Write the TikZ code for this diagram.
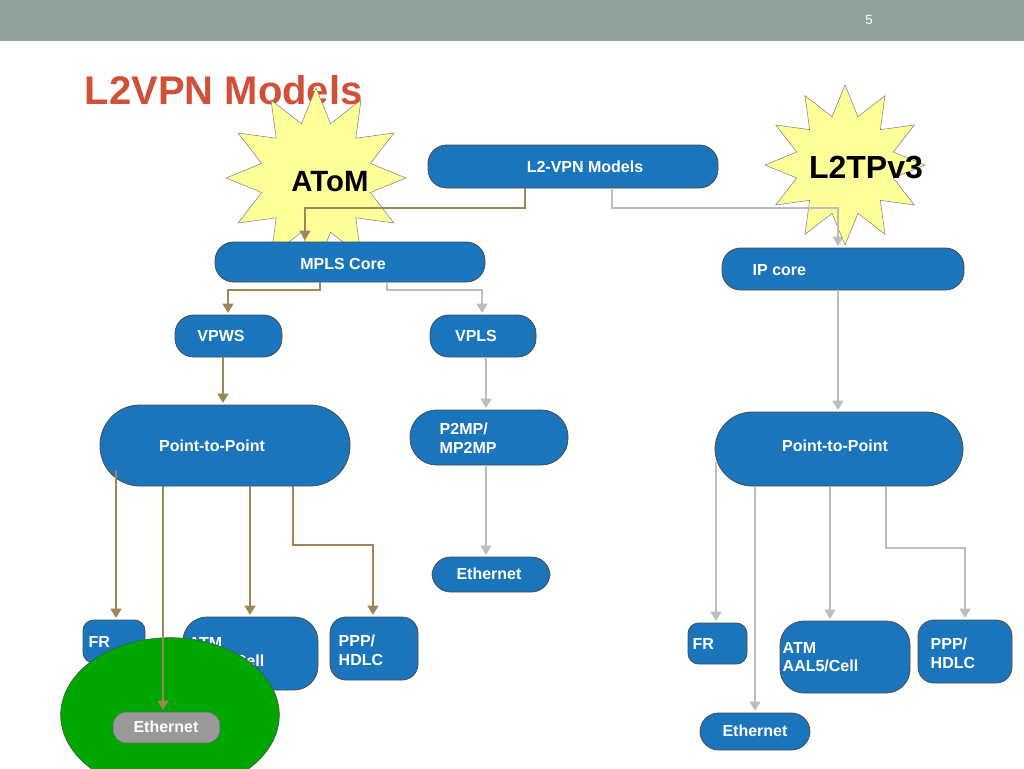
\documentclass[tikz,border=0pt]{standalone}
\usepackage{fontspec}
\setmainfont{Liberation Sans}
\usetikzlibrary{shapes.geometric,arrows.meta,shadows}
\definecolor{bar}{HTML}{8FA39A}
\definecolor{ttl}{HTML}{D0503A}
\definecolor{bx}{HTML}{1A75BC}
\definecolor{brn}{HTML}{A08558}
\definecolor{gry}{HTML}{BDBDBD}
\definecolor{st}{HTML}{FFFF99}
\begin{document}
\begin{tikzpicture}[x=0.75pt,y=-0.75pt,
 b/.style={draw=black!70,fill=bx,rounded corners=14pt,line width=0.6pt,text=white,font=\bfseries\large},
 cb/.style={line width=2.2pt,brn,-{Triangle[length=7pt,width=8pt]}},
 cg/.style={line width=2.2pt,gry,-{Triangle[length=7pt,width=8pt]}},
 star1/.style={star,star points=12,star point ratio=1.6,draw=gray,fill=st,minimum size=135pt}]
\useasboundingbox (0,0) rectangle (1024,768);
\fill[bar] (0,0) rectangle (1024,41);
\node[text=white] (pg) at (869,20) {5};
\node[anchor=west,text=ttl,font=\bfseries\fontsize{30}{32}\selectfont] (t) at (80,90) {L2VPN Models};
\node[star1] (s1) at (316,178) {};
\node[font=\bfseries\fontsize{22}{24}\selectfont] (s1t) at (330,182) {AToM};
\node[star1,minimum size=120pt] (s2) at (845,165) {};
\node[font=\bfseries\fontsize{24}{26}\selectfont] (s2t) at (866,168) {L2TPv3};
\newcommand{\bx}[4]{\path[b] (#1) rectangle (#2);}
\path[b] (428,145) rectangle (718,188); \node[text=white,font=\bfseries\large] (lvm) at (585,167) {L2-VPN Models};
\path[b] (215,242) rectangle (485,282); \node[text=white,font=\bfseries\large] (mc) at (343,264) {MPLS Core};
\path[b] (722,248) rectangle (964,290); \node[text=white,font=\bfseries\large,anchor=west] (ipc) at (748,270) {IP core};
\path[b] (175,315) rectangle (282,357); \node[text=white,font=\bfseries\large] (vpws) at (221,336) {VPWS};
\path[b] (430,315) rectangle (536,357); \node[text=white,font=\bfseries\large] (vpls) at (476,336) {VPLS};
\path[b,rounded corners=30pt] (100,405) rectangle (350,486); \node[text=white,font=\bfseries\large] (p1) at (212,446) {Point-to-Point};
\path[b,rounded corners=20pt] (410,410) rectangle (568,465); \node[text=white,font=\bfseries\large,align=left,anchor=west] (p2) at (435,438) {P2MP/\\MP2MP};
\path[b] (432,557) rectangle (550,592); \node[text=white,font=\bfseries\large] (e1) at (489,574) {Ethernet};
\path[b,rounded corners=28pt] (715,412) rectangle (963,486); \node[text=white,font=\bfseries\large] (p3) at (835,446) {Point-to-Point};
\path[b,rounded corners=8pt] (83,620) rectangle (145,663); \node[text=white,font=\bfseries\large,anchor=west] (fr1) at (84,642) {FR};
\path[b,rounded corners=18pt] (183,617) rectangle (318,690); \node[text=white,font=\bfseries\large,align=left,anchor=west] (atm1) at (184,652) {ATM\\AAL5/Cell};
\path[b,rounded corners=12pt] (330,617) rectangle (418,680); \node[text=white,font=\bfseries\large,align=left,anchor=west] (ppp1) at (334,650) {PPP/\\HDLC};
\path[draw=black!70,fill=green!65!black] (170,715) ellipse (82pt and 58pt);
\path[draw=black!60,fill=gray!80,rounded corners=10pt] (113,712) rectangle (220,743); \node[text=white,font=\bfseries\large] (e2) at (166,727) {Ethernet};
\path[b,rounded corners=8pt] (688,623) rectangle (747,664); \node[text=white,font=\bfseries\large,anchor=west] (fr2) at (688,644) {FR};
\path[b,rounded corners=18pt] (780,621) rectangle (910,693); \node[text=white,font=\bfseries\large,align=left,anchor=west] (atm2) at (778,657) {ATM\\AAL5/Cell};
\path[b,rounded corners=12pt] (918,620) rectangle (1012,683); \node[text=white,font=\bfseries\large,align=left,anchor=west] (ppp2) at (926,653) {PPP/\\HDLC};
\path[b] (700,713) rectangle (810,750); \node[text=white,font=\bfseries\large] (e3) at (755,731) {Ethernet};
% connectors
\draw[cb] (525,188) -- (525,208) -- (305,208) -- (305,240);
\draw[cg] (612,188) -- (612,208) -- (838,208) -- (838,246);
\draw[cb] (320,282) -- (320,290) -- (228,290) -- (228,313);
\draw[cg] (387,282) -- (387,290) -- (482,290) -- (482,313);
\draw[cb] (223,357) -- (223,403);
\draw[cg] (486,357) -- (486,408);
\draw[cg] (486,465) -- (486,555);
\draw[cg] (838,290) -- (838,410);
\draw[cb] (116,470) -- (116,618);
\draw[cb] (163,486) -- (163,710);
\draw[cb] (250,486) -- (250,615);
\draw[cb] (293,486) -- (293,545) -- (373,545) -- (373,615);
\draw[cg] (716,462) -- (716,621);
\draw[cg] (755,486) -- (755,711);
\draw[cg] (830,486) -- (830,619);
\draw[cg] (886,486) -- (886,548) -- (965,548) -- (965,618);
\end{tikzpicture}
\end{document}
